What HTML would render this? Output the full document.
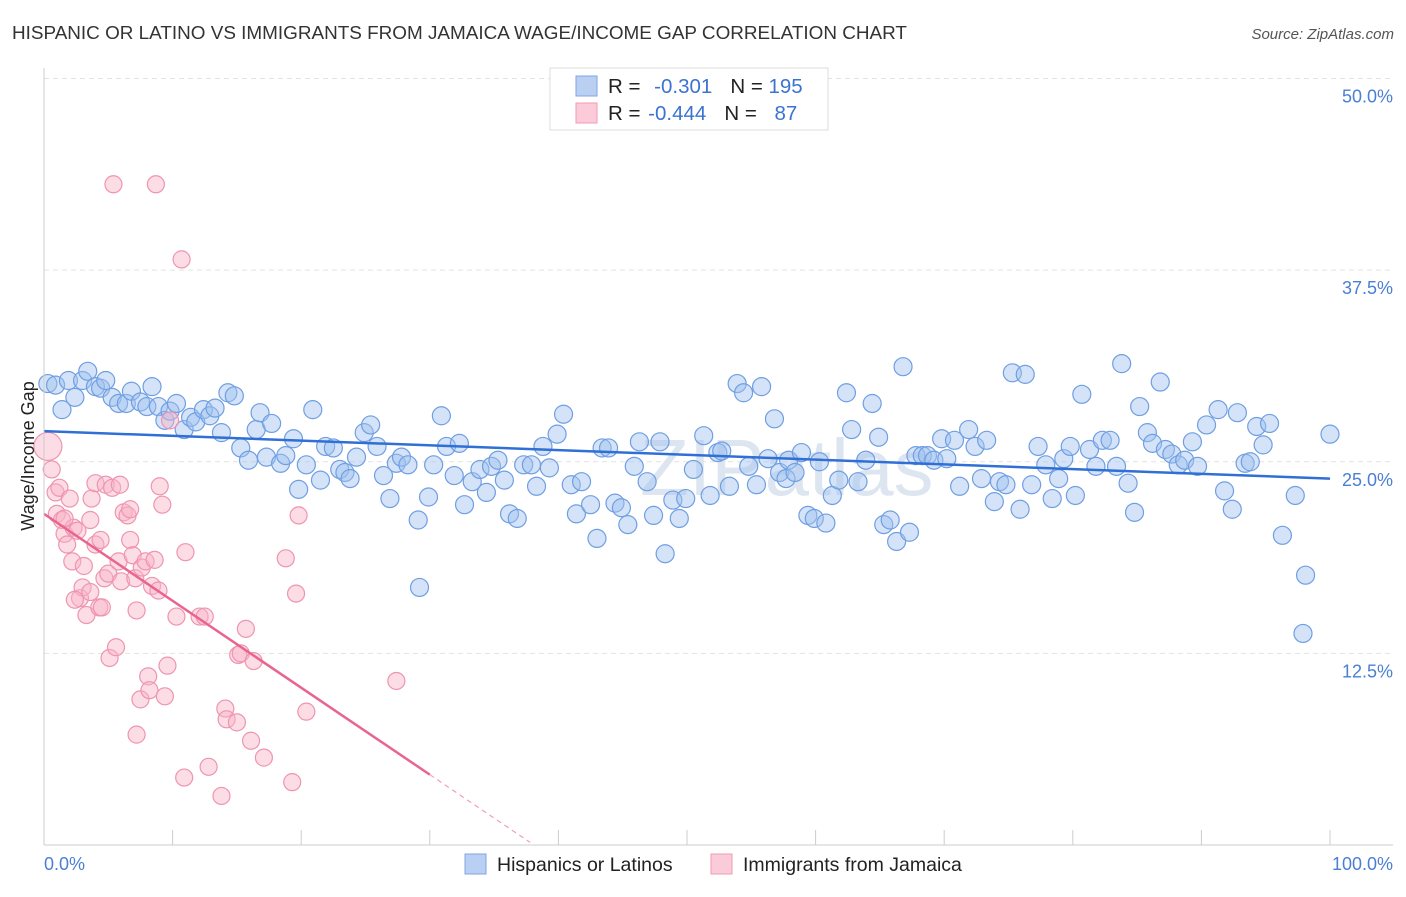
<!DOCTYPE html>
<html><head><meta charset="utf-8"><style>
body{margin:0;background:#fff;font-family:"Liberation Sans",sans-serif}
svg text{font-family:"Liberation Sans",sans-serif}
</style></head><body>
<svg id="chart" width="1406" height="892" xmlns="http://www.w3.org/2000/svg">
<text x="12" y="39" font-size="18.9" fill="#333">HISPANIC OR LATINO VS IMMIGRANTS FROM JAMAICA WAGE/INCOME GAP CORRELATION CHART</text>
<text x="1394" y="39" font-size="15" fill="#555" font-style="italic" text-anchor="end">Source: ZipAtlas.com</text>
<text x="640" y="495" font-size="80" fill="#dde6f0" font-family="Liberation Serif">ZIPatlas</text>
<g id="grid"></g>
<g id="pts"></g>
<g id="trend"></g>
<line x1="44" y1="68" x2="44" y2="845" stroke="#ccc"/>
<line x1="44" y1="845" x2="1393" y2="845" stroke="#ccc"/>
<g id="xticks"></g>
<text transform="translate(34,456) rotate(-90)" font-size="18" fill="#222" text-anchor="middle">Wage/Income Gap</text>
<text x="44" y="870" font-size="18" fill="#4a7fd4">0.0%</text>
<text x="1393" y="870" font-size="18" fill="#4a7fd4" text-anchor="end">100.0%</text>
<g>
<rect x="550" y="68" width="278" height="62" fill="#fff" stroke="#ddd"/>
<rect x="576" y="76" width="21" height="20" fill="#b9d0f3" stroke="#7ea6e6"/>
<rect x="576" y="103" width="21" height="20" fill="#fbcbd9" stroke="#f09ab5"/>
<text x="608" y="93" font-size="20.5" fill="#222">R = <tspan fill="#3b73d0" dx="8">-0.301</tspan><tspan dx="18" fill="#222">N = </tspan><tspan fill="#3b73d0">195</tspan></text>
<text x="608" y="120" font-size="20.5" fill="#222">R = <tspan fill="#3b73d0" dx="2">-0.444</tspan><tspan dx="18" fill="#222">N = </tspan><tspan fill="#3b73d0" dx="12">87</tspan></text>
</g>
<g>
<rect x="465" y="854" width="21" height="20" fill="#b9d0f3" stroke="#7ea6e6"/>
<text x="497" y="871" font-size="19.5" fill="#222">Hispanics or Latinos</text>
<rect x="711" y="854" width="21" height="20" fill="#fbcbd9" stroke="#f09ab5"/>
<text x="743" y="871" font-size="19.5" fill="#222">Immigrants from Jamaica</text>
</g>
</svg>
<script>
const yTicks=[12.5,25,37.5,50];
const yTickLabels=["12.5%","25.0%","37.5%","50.0%"];
const xTicks=[0,10,20,30,40,50,60,70,80,90,100];
const blueX=[0.3,0.9,1.4,1.9,2.4,3.0,3.4,4.0,4.4,4.8,5.3,5.8,6.4,6.8,7.5,8.0,8.4,8.9,9.4,9.8,10.3,10.9,11.4,11.8,12.4,12.9,13.3,13.8,14.3,14.8,15.3,15.9,16.5,16.8,17.3,17.7,18.4,18.8,19.4,19.8,20.4,20.9,21.5,21.9,22.5,23.0,23.4,23.8,24.3,24.9,25.4,25.9,26.4,26.9,27.4,27.8,28.3,29.1,29.2,29.9,30.3,30.9,31.3,31.9,32.3,32.7,33.3,33.9,34.4,34.8,35.3,35.8,36.2,36.8,37.3,37.9,38.3,38.8,39.3,39.9,40.4,41.0,41.4,41.8,42.5,43.0,43.4,43.9,44.4,44.9,45.4,45.9,46.3,46.9,47.4,47.9,48.3,48.9,49.4,49.9,50.5,51.3,51.8,52.4,52.7,53.3,53.9,54.4,54.8,55.4,55.8,56.3,56.8,57.2,57.7,57.9,58.4,58.9,59.4,59.9,60.3,60.8,61.3,61.8,62.4,62.8,63.3,63.9,64.4,64.9,65.3,65.8,66.3,66.8,67.3,67.8,68.3,68.7,69.2,69.8,70.2,70.8,71.2,71.9,72.4,72.9,73.3,73.9,74.3,74.8,75.3,75.9,76.3,76.8,77.3,77.9,78.4,78.9,79.3,79.8,80.2,80.7,81.3,81.8,82.3,82.9,83.4,83.8,84.3,84.8,85.2,85.8,86.2,86.8,87.2,87.7,88.2,88.7,89.3,89.7,90.4,91.3,91.8,92.4,92.8,93.4,93.8,94.3,94.8,95.3,96.3,97.3,97.9,98.1,100.0];
const blueY=[30.1,30.0,28.4,30.3,29.2,30.3,30.9,29.9,29.8,30.3,29.2,28.8,28.8,29.6,28.9,28.6,29.9,28.6,27.7,28.3,28.8,27.1,27.9,27.6,28.4,28.0,28.5,26.9,29.5,29.3,25.9,25.1,27.1,28.2,25.3,27.5,24.9,25.4,26.5,23.2,24.8,28.4,23.8,26.0,25.9,24.5,24.3,23.9,25.3,26.9,27.4,26.0,24.1,22.6,24.9,25.3,24.8,21.2,16.8,22.7,24.8,28.0,26.0,24.1,26.2,22.2,23.7,24.5,23.0,24.7,25.1,23.8,21.6,21.3,24.8,24.8,23.4,26.0,24.6,26.8,28.1,23.5,21.6,23.7,22.2,20.0,25.9,25.9,22.3,22.0,20.9,24.7,26.3,23.7,21.5,26.3,19.0,22.5,21.3,22.6,24.5,26.7,22.8,25.6,25.7,23.4,30.1,29.5,24.7,23.5,29.9,25.2,27.8,24.3,23.9,25.1,24.3,25.6,21.5,21.3,25.0,21.0,22.8,23.8,29.5,27.1,23.7,25.1,28.8,26.6,20.9,21.2,19.8,31.2,20.4,25.4,25.4,25.4,25.1,26.5,25.2,26.4,23.4,27.1,26.0,23.9,26.4,22.4,23.7,23.5,30.8,21.9,30.7,23.5,26.0,24.8,22.6,23.9,25.2,26.0,22.8,29.4,25.8,24.7,26.4,26.4,24.7,31.4,23.6,21.7,28.6,26.9,26.2,30.2,25.8,25.5,24.8,25.1,26.3,24.7,27.4,28.4,23.1,21.9,28.2,24.9,25.0,27.3,26.1,27.5,20.2,22.8,13.8,17.6,26.8];
const pinkX=[0.3,0.6,0.9,1.0,1.2,1.4,1.6,1.8,2.0,2.2,2.3,2.6,2.8,3.0,3.1,3.3,3.6,3.7,4.0,4.0,4.3,4.5,4.7,4.8,5.0,5.1,5.3,5.4,5.6,5.8,6.0,6.2,6.5,6.7,6.9,7.1,7.2,7.2,7.5,7.6,7.9,8.1,8.2,8.4,8.6,8.7,8.9,9.0,9.2,9.4,9.6,9.8,10.3,10.7,10.9,11.0,12.1,12.5,12.8,13.8,14.1,14.2,15.0,15.1,15.3,15.7,16.1,16.3,17.1,18.8,19.3,19.6,19.8,20.4,27.4,5.9,6.7,1.6,2.4,3.6,4.4];
const pinkY=[26.0,24.5,23.0,21.6,23.3,21.2,20.3,19.6,22.6,18.5,20.7,20.5,16.1,16.8,18.2,15.0,16.5,22.6,23.6,19.6,15.5,15.5,17.4,23.5,17.7,12.2,23.3,43.1,12.9,18.5,17.2,21.7,21.5,19.9,18.9,17.4,15.3,7.2,9.5,18.1,18.5,11.0,10.1,16.9,18.6,43.1,16.6,23.4,22.2,9.7,11.7,27.7,14.9,38.2,4.4,19.1,14.9,14.9,5.1,3.2,8.9,8.2,8.0,12.4,12.5,14.1,6.8,12.0,5.7,18.7,4.1,16.4,21.5,8.7,10.7,23.5,21.9,21.3,16.0,21.2,19.9];
const blueTrend=[27.0,23.9];
const pinkTrend=[21.6,-35.1];
const pinkSolidEnd=30, pinkDashEnd=37.8;

const NS="http://www.w3.org/2000/svg";
const X=v=>44+v*12.86;
const Y=v=>845-v*15.33;
function mk(tag,attrs,parent){const e=document.createElementNS(NS,tag);for(const k in attrs)e.setAttribute(k,attrs[k]);document.getElementById(parent).appendChild(e);return e;}
yTicks.forEach((t,i)=>{
 const l=mk('line',{x1:44,x2:1393,y1:Y(t),y2:Y(t),stroke:'#e2e2e2','stroke-dasharray':'5,4'},'grid');
 
 
 const tx=mk('text',{x:1393,y:Y(t)+24,'font-size':18,fill:'#4a7fd4','text-anchor':'end'},'grid');
 tx.textContent=yTickLabels[i];
 
 
});
xTicks.forEach(t=>{
 const l=mk('line',{x1:X(t),x2:X(t),y1:830,y2:845,stroke:'#ccc'},'xticks');
 
 
});
blueX.forEach((v,i)=>{
 const c=mk('circle',{cx:X(v),cy:Y(blueY[i]),r:9,fill:'rgba(160,192,240,0.45)',stroke:'#6f9fe2','stroke-width':1.2},'pts');
 
 
});
pinkX.forEach((v,i)=>{
 const c=mk('circle',{cx:X(v),cy:Y(pinkY[i]),r:i===0?14:8.5,fill:'rgba(248,180,200,0.45)',stroke:'#ef94b1','stroke-width':1.2},'pts');
 
 
});
const pk=v=>pinkTrend[0]+(pinkTrend[1]-pinkTrend[0])*v/100;
let t1=mk('line',{x1:X(0),y1:Y(blueTrend[0]),x2:X(100),y2:Y(blueTrend[1]),stroke:'#2f6fd6','stroke-width':2.5},'trend');


let t2=mk('line',{x1:X(0),y1:Y(pk(0)),x2:X(pinkSolidEnd),y2:Y(pk(pinkSolidEnd)),stroke:'#e9648f','stroke-width':2.5},'trend');


let t3=mk('line',{x1:X(pinkSolidEnd),y1:Y(pk(pinkSolidEnd)),x2:X(pinkDashEnd),y2:Y(pk(pinkDashEnd)),stroke:'#f0a0b8','stroke-width':1.2,'stroke-dasharray':'5,4'},'trend');


</script>
</body></html>
